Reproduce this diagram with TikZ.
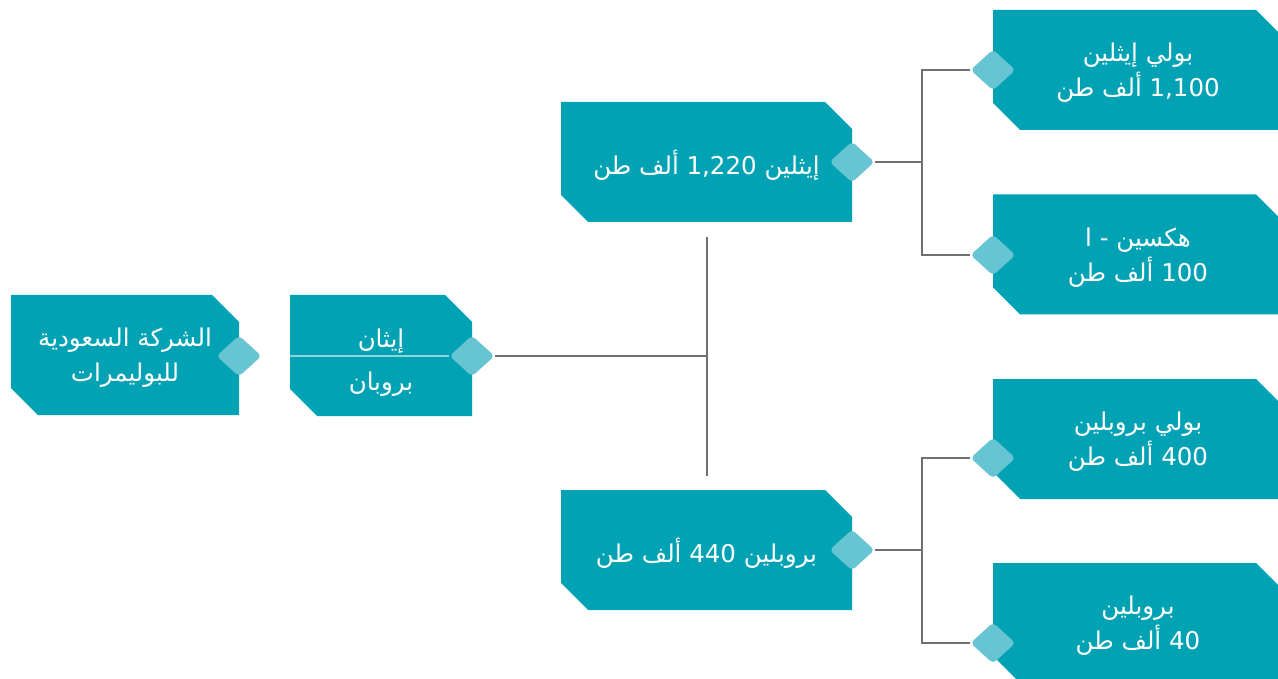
\documentclass[tikz,border=0pt]{standalone}
\usepackage{fontspec}
\newfontfamily\arabicfont[Script=Arabic]{DejaVu Sans}
\TeXXeTstate=1
\usetikzlibrary{shapes.geometric}
\definecolor{tealbox}{HTML}{00A2B4}
\definecolor{tealknob}{HTML}{67C5D3}
\definecolor{linkgray}{HTML}{707070}
\definecolor{splitline}{HTML}{8FD3DC}
\newcommand{\artext}[1]{\beginR #1\endR}
\newcommand{\num}[1]{\beginL #1\endL{}}

\begin{document}
\begin{tikzpicture}[
  x=1pt, y=-1pt,
  box/.style={rectangle, inner sep=0pt, text=white, align=center, text depth=0pt,
    font=\arabicfont\fontsize{24.5}{35}\selectfont,
    path picture={\fill[tealbox]
      (path picture bounding box.north west)
      -- ([xshift=-27pt]path picture bounding box.north east)
      -- ([yshift=-27pt]path picture bounding box.north east)
      -- (path picture bounding box.south east)
      -- ([xshift=27pt]path picture bounding box.south west)
      -- ([yshift=27pt]path picture bounding box.south west) -- cycle;}},
  label/.style={text=white, inner sep=0pt, font=\arabicfont\fontsize{24.5}{35}\selectfont},
  knob/.style={diamond, fill=tealknob, minimum width=45pt, minimum height=41pt, inner sep=0pt, rounded corners=4pt},
  link/.style={draw=linkgray, line width=1.1pt}
]
\useasboundingbox (0,0) rectangle (1278,679);
\clip (0,0) rectangle (1278,679);

% Left side
\node[box, minimum width=228pt, minimum height=120pt] (company) at (125,355) {\artext{الشركة السعودية}\\\artext{للبوليمرات}};
\node[box, minimum width=182pt, minimum height=121pt] (feed) at (381,355.5) {};
\node[label] (ethane) at (381,341) {\artext{إيثان}};
\node[label] (propane) at (381,384) {\artext{بروبان}};

% Middle layer
\node[box, minimum width=291pt, minimum height=120pt] (ethylene) at (706.5,162) {\artext{إيثلين \num{1,220} ألف طن}};
\node[box, minimum width=291pt, minimum height=120pt] (propylene) at (706.5,550) {\artext{بروبلين \num{440} ألف طن}};

% Right layer (products)
\node[box, minimum width=290pt, minimum height=120pt] (polyE) at (1138,70) {\artext{بولي إيثلين}\\\artext{\num{1,100} ألف طن}};
\node[box, minimum width=290pt, minimum height=120pt] (hexene) at (1138,254.5) {\artext{هكسين - ا}\\\artext{\num{100} ألف طن}};
\node[box, minimum width=290pt, minimum height=120pt] (polyP) at (1138,439) {\artext{بولي بروبلين}\\\artext{\num{400} ألف طن}};
\node[box, minimum width=290pt, minimum height=120pt] (propyleneP) at (1138,623) {\artext{بروبلين}\\\artext{\num{40} ألف طن}};

% Knobs
\node[knob] (kCompany) at (239,356) {};
\node[knob] (kFeed) at (472,356) {};
\node[knob] (kEthylene) at (852,162) {};
\node[knob] (kPropylene) at (852,550) {};
\node[knob] (kPolyE) at (993,70) {};
\node[knob] (kHexene) at (993,255) {};
\node[knob] (kPolyP) at (993,458) {};
\node[knob] (kPropyleneP) at (993,643) {};

% Split line of the feed box
\draw[draw=splitline, line width=1.2pt] (feed.west |- kFeed) -- (kFeed.west);

% Connectors
\coordinate (hub) at (707,356);
\coordinate (hubTop) at (707,237);
\coordinate (hubBottom) at (707,476);
\coordinate (forkE) at (922,162);
\coordinate (forkP) at (922,550);

\draw[link] (kFeed.east) -- (hub);
\draw[link] (hubTop) -- (hubBottom);
\draw[link] (kEthylene.east) -- (forkE);
\draw[link] (kPolyE.west) -| (forkE) |- (kHexene.west);
\draw[link] (kPropylene.east) -- (forkP);
\draw[link] (kPolyP.west) -| (forkP) |- (kPropyleneP.west);

\end{tikzpicture}
\end{document}
